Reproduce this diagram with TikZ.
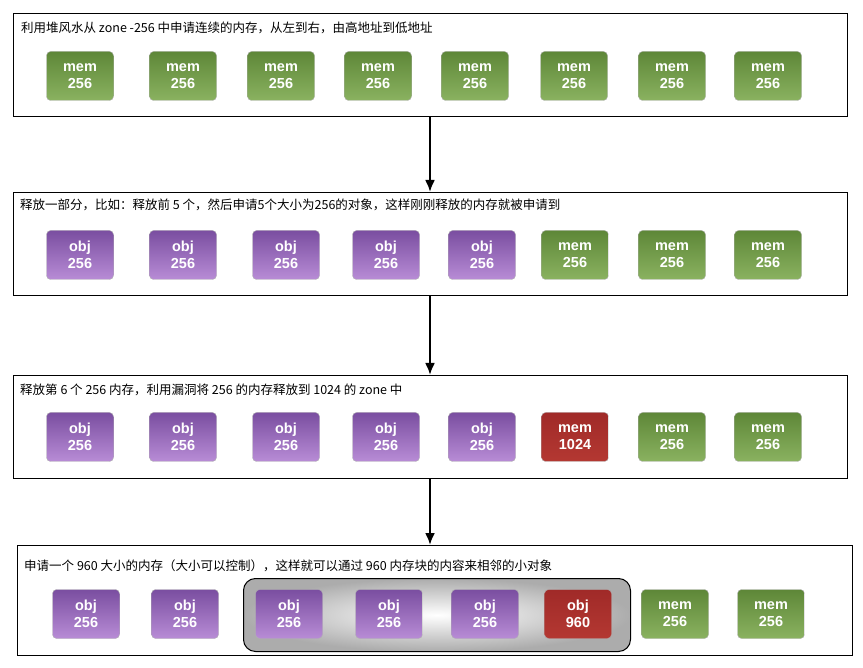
\documentclass[tikz,border=0pt]{standalone}
\usepackage{fontspec}
\usetikzlibrary{arrows.meta}
\setmainfont{Noto Sans CJK SC}
\newfontfamily\boxfont{Liberation Sans}
\begin{document}
\begin{tikzpicture}[x=1pt,y=-1pt,
  panel/.style={draw=black,line width=0.8pt},
  title/.style={anchor=west,font=\fontsize{12.5}{14}\selectfont,inner sep=0pt},
  blk/.style={rounded corners=4pt,minimum width=67pt,minimum height=49pt,draw=gray!60,
    text=white,align=center,font=\boxfont\bfseries\fontsize{14.5}{17}\selectfont,inner sep=0pt},
  arr/.style={-{Latex[length=12pt,width=10pt]},line width=2.2pt}]
\useasboundingbox (0,0) rectangle (863,668);
\tikzset{
  mem/.style={blk,top color={rgb,255:red,94;green,135;blue,56},bottom color={rgb,255:red,138;green,178;blue,96}},
  obj/.style={blk,top color={rgb,255:red,122;green,78;blue,160},bottom color={rgb,255:red,184;green,140;blue,214}},
  red/.style={blk,top color={rgb,255:red,160;green,42;blue,40},bottom color={rgb,255:red,180;green,56;blue,50}}}
% panel 1
\node[panel,minimum width=834pt,minimum height=103pt,anchor=north west,inner sep=0pt] (p1) at (13,13) {};
\node[title] (t1) at (21,28) {利用堆风水从 zone -256 中申请连续的内存，从左到右，由高地址到低地址};
\foreach \x [count=\i] in {80,183,281,378,475,574,672,768}
  \node[mem] (a\i) at (\x,76) {mem\\256};
% panel 2
\node[panel,minimum width=834pt,minimum height=103pt,anchor=north west,inner sep=0pt] (p2) at (13,192) {};
\node[title] (t2) at (20,205) {释放一部分，比如：释放前 5 个，然后申请5个大小为256的对象，这样刚刚释放的内存就被申请到};
\foreach \x [count=\i] in {80,183,286,386,482}
  \node[obj] (b\i) at (\x,255) {obj\\256};
\foreach \x [count=\i from 6] in {575,672,768}
  \node[mem] (b\i) at (\x,255) {mem\\256};
% panel 3
\node[panel,minimum width=834pt,minimum height=103pt,anchor=north west,inner sep=0pt] (p3) at (13,375) {};
\node[title] (t3) at (20,390) {释放第 6 个 256 内存，利用漏洞将 256 的内存释放到 1024 的 zone 中};
\foreach \x [count=\i] in {80,183,286,386,482}
  \node[obj] (c\i) at (\x,437) {obj\\256};
\node[red] (c6) at (575,437) {mem\\1024};
\foreach \x [count=\i from 7] in {672,768}
  \node[mem] (c\i) at (\x,437) {mem\\256};
% panel 4
\node[panel,minimum width=835pt,minimum height=110pt,anchor=north west,inner sep=0pt] (p4) at (17,545) {};
\node[title] (t4) at (24,566) {申请一个 960 大小的内存（大小可以控制），这样就可以通过 960 内存块的内容来相邻的小对象};
\node[draw=black,line width=1pt,rounded corners=12pt,minimum width=387pt,minimum height=73pt,
  anchor=north west,inner color=white,outer color=gray!65,inner sep=0pt] (g) at (243,578) {};
\foreach \x [count=\i] in {86,185,289,389,485}
  \node[obj] (d\i) at (\x,614) {obj\\256};
\node[red] (d6) at (578,614) {obj\\960};
\foreach \x [count=\i from 7] in {675,771}
  \node[mem] (d\i) at (\x,614) {mem\\256};
% arrows
\draw[arr] (p1.south -| 430,0) -- (p2.north -| 430,0);
\draw[arr] (p2.south -| 430,0) -- (p3.north -| 430,0);
\draw[arr] (p3.south -| 430,0) -- (p4.north -| 430,0);
\end{tikzpicture}
\end{document}
